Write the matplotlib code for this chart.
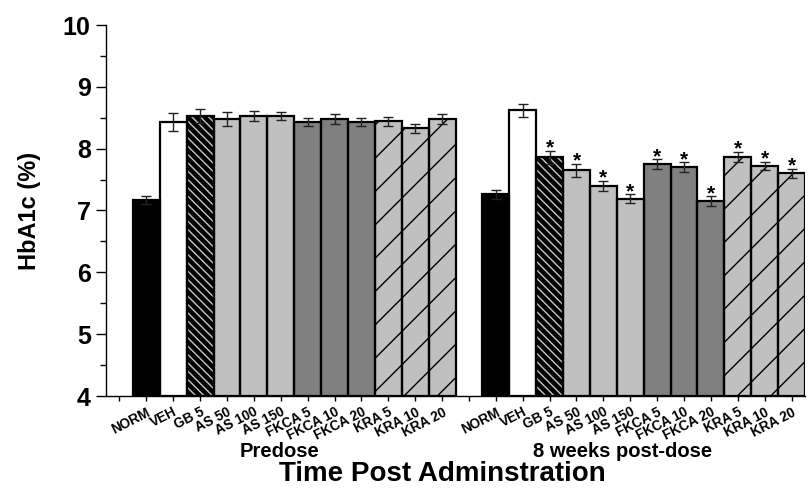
import numpy as np
import matplotlib
matplotlib.use("Agg")
import matplotlib.pyplot as plt
from matplotlib.ticker import MultipleLocator, FixedLocator

plt.rcParams['font.family'] = ['Liberation Sans', 'DejaVu Sans']
plt.rcParams['font.weight'] = 'bold'

# ---- data ----
categories = ["NORM", "VEH", "GB 5", "AS 50", "AS 100", "AS 150",
              "FKCA 5", "FKCA 10", "FKCA 20", "KRA 5", "KRA 10", "KRA 20"]
groups = ["Predose", "8 weeks post-dose"]
predose_mean = [7.17, 8.43, 8.53, 8.48, 8.53, 8.53, 8.43, 8.48, 8.43, 8.44, 8.33, 8.48]
predose_err = [0.07, 0.14, 0.11, 0.11, 0.08, 0.07, 0.07, 0.08, 0.07, 0.07, 0.07, 0.08]
post_mean = [7.26, 8.62, 7.86, 7.65, 7.40, 7.19, 7.75, 7.70, 7.15, 7.87, 7.72, 7.60]
post_err = [0.07, 0.10, 0.11, 0.11, 0.08, 0.07, 0.08, 0.08, 0.08, 0.08, 0.07, 0.07]
post_sig = [False, False, True, True, True, True, True, True, True, True, True, True]
y_label = "HbA1c (%)"
x_label = "Time Post Adminstration"

# ---- styles (face, hatch, hatch colour) ----
styles = {
    "NORM": ("black", "", "black"),
    "VEH": ("white", "", "black"),
    "GB 5": ("black", "\\\\\\\\", "#c8c8c8"),
    "AS": ("#c0c0c0", "", "black"),
    "FKCA": ("#808080", "", "black"),
    "KRA": ("#c0c0c0", "/", "black"),
}

def style_for(cat):
    if cat in styles:
        return styles[cat]
    return styles[cat.split()[0]]

fig = plt.figure(figsize=(8.1, 4.9), dpi=100)
ax = fig.add_axes([106/810, 94/490, 699/810, 371/490])

n = len(categories)
x_pre = np.arange(1, n + 1)
x_post = np.arange(n + 2, 2 * n + 2)

plt.rcParams['hatch.linewidth'] = 1.0

def draw_group(xs, means, errs, sig=None):
    for x, cat, m, e in zip(xs, categories, means, errs):
        face, hatch, hcol = style_for(cat)
        ax.bar(x, m - 4, bottom=4, width=1.0, facecolor=face, edgecolor=hcol,
               hatch=hatch if hatch else None, linewidth=0, zorder=2)
        ax.bar(x, m - 4, bottom=4, width=1.0, facecolor='none', edgecolor='black',
               linewidth=1.6, zorder=3)
    ax.errorbar(xs, means, yerr=errs, fmt='none', ecolor='#222222',
                elinewidth=1.0, capsize=3.8, capthick=1.0, zorder=4)
    if sig is not None:
        for x, m, e, s in zip(xs, means, errs, sig):
            if s:
                ax.annotate("*", (x, m + e), xytext=(0, -2.0), textcoords='offset points',
                            ha='center', va='baseline', fontsize=15, fontweight='bold')

draw_group(x_pre, predose_mean, predose_err)
draw_group(x_post, post_mean, post_err, post_sig)

ax.set_xlim(-0.5, 2 * n + 1.5)
ax.set_ylim(4, 10)

ax.spines['top'].set_visible(False)
ax.spines['right'].set_visible(False)
ax.spines['left'].set_linewidth(1.0)
ax.spines['bottom'].set_linewidth(1.0)

ax.yaxis.set_major_locator(MultipleLocator(1))
ax.yaxis.set_minor_locator(MultipleLocator(0.5))
ax.tick_params(axis='y', which='major', direction='out', length=7, width=1.0,
               labelsize=18, pad=4)
ax.tick_params(axis='y', which='minor', direction='out', length=4, width=1.0)
for lbl in ax.get_yticklabels():
    lbl.set_fontweight('bold')

all_x = np.arange(0, 2 * n + 2)
ax.xaxis.set_major_locator(FixedLocator(all_x))
labels = []
for xv in all_x:
    if 1 <= xv <= n:
        labels.append(categories[xv - 1])
    elif n + 2 <= xv <= 2 * n + 1:
        labels.append(categories[xv - n - 2])
    else:
        labels.append("")
ax.set_xticklabels(labels, rotation=27, ha='right', rotation_mode='anchor',
                   fontsize=9.8, fontweight='bold')
ax.tick_params(axis='x', which='major', direction='out', length=3.5, width=1.0, pad=3)

ax.set_ylabel(y_label, fontsize=17, fontweight='bold', labelpad=16)

trans = matplotlib.transforms.blended_transform_factory(ax.transData, fig.transFigure)
ax.text(5.96, 1 - 457/490, groups[0], transform=trans, ha='center', va='baseline',
        fontsize=14.5, fontweight='bold')
ax.text(18.7, 1 - 457/490, groups[1], transform=trans, ha='center', va='baseline',
        fontsize=14.5, fontweight='bold')
fig.text(442/810, 1 - 481/490, x_label, ha='center', va='baseline',
         fontsize=20, fontweight='bold')

fig.savefig("out.png", dpi=100)
